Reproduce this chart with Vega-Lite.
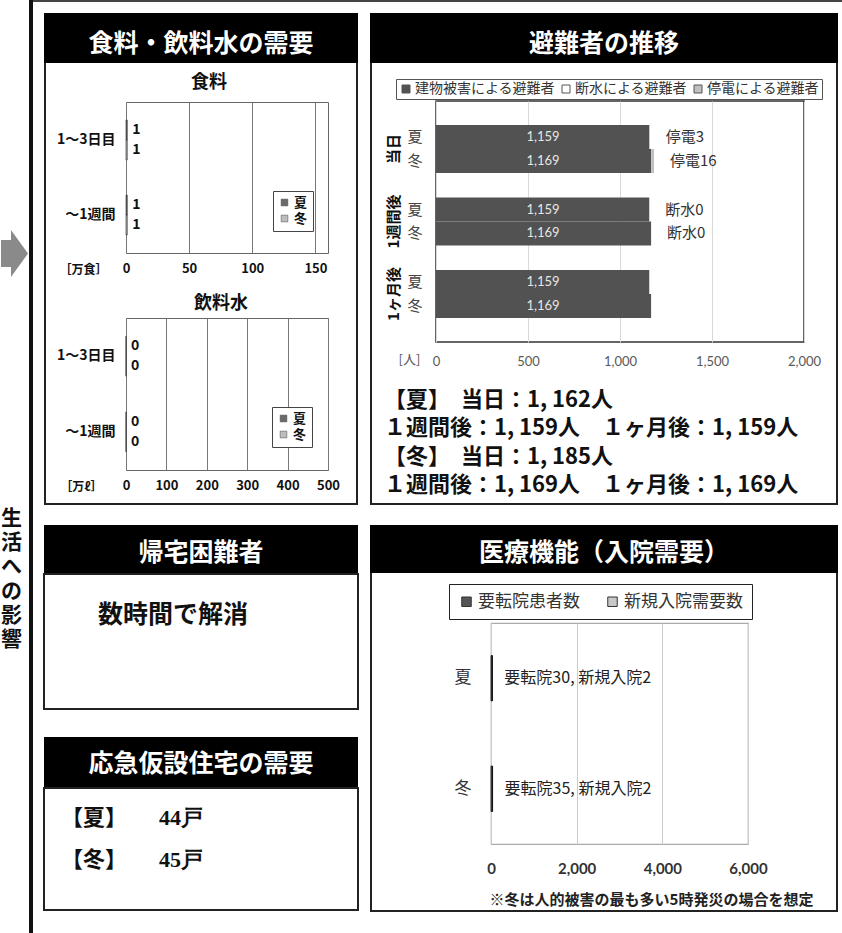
{
  "$schema": "https://vega.github.io/schema/vega-lite/v6.json",
  "padding": 0,
  "background": "white",
  "config": {
    "font": "Noto Sans CJK JP",
    "view": {"stroke": null},
    "axis": {"labelFont": "Noto Sans CJK JP", "titleFont": "Noto Sans CJK JP"},
    "legend": {"labelFont": "Noto Sans CJK JP"},
    "title": {"font": "Noto Sans CJK JP"}
  },
  "datasets": {
    "sidebar": [
      {"i": 1, "ch": "生"}, {"i": 2, "ch": "活"}, {"i": 3, "ch": "へ"},
      {"i": 4, "ch": "の"}, {"i": 5, "ch": "影"}, {"i": 6, "ch": "響"}
    ],
    "food": [
      {"period": "1～3日目", "season": "夏", "value": 1},
      {"period": "1～3日目", "season": "冬", "value": 1},
      {"period": "～1週間", "season": "夏", "value": 1},
      {"period": "～1週間", "season": "冬", "value": 1}
    ],
    "water": [
      {"period": "1～3日目", "season": "夏", "value": 0},
      {"period": "1～3日目", "season": "冬", "value": 0},
      {"period": "～1週間", "season": "夏", "value": 0},
      {"period": "～1週間", "season": "冬", "value": 0}
    ],
    "evac": [
      {"group": "当日", "season": "夏", "cause": "建物被害による避難者", "k": 1, "value": 1159},
      {"group": "当日", "season": "夏", "cause": "断水による避難者", "k": 2, "value": 0},
      {"group": "当日", "season": "夏", "cause": "停電による避難者", "k": 3, "value": 3},
      {"group": "当日", "season": "冬", "cause": "建物被害による避難者", "k": 1, "value": 1169},
      {"group": "当日", "season": "冬", "cause": "断水による避難者", "k": 2, "value": 0},
      {"group": "当日", "season": "冬", "cause": "停電による避難者", "k": 3, "value": 16},
      {"group": "1週間後", "season": "夏", "cause": "建物被害による避難者", "k": 1, "value": 1159},
      {"group": "1週間後", "season": "夏", "cause": "断水による避難者", "k": 2, "value": 0},
      {"group": "1週間後", "season": "夏", "cause": "停電による避難者", "k": 3, "value": 0},
      {"group": "1週間後", "season": "冬", "cause": "建物被害による避難者", "k": 1, "value": 1169},
      {"group": "1週間後", "season": "冬", "cause": "断水による避難者", "k": 2, "value": 0},
      {"group": "1週間後", "season": "冬", "cause": "停電による避難者", "k": 3, "value": 0},
      {"group": "1ヶ月後", "season": "夏", "cause": "建物被害による避難者", "k": 1, "value": 1159},
      {"group": "1ヶ月後", "season": "夏", "cause": "断水による避難者", "k": 2, "value": 0},
      {"group": "1ヶ月後", "season": "夏", "cause": "停電による避難者", "k": 3, "value": 0},
      {"group": "1ヶ月後", "season": "冬", "cause": "建物被害による避難者", "k": 1, "value": 1169},
      {"group": "1ヶ月後", "season": "冬", "cause": "断水による避難者", "k": 2, "value": 0},
      {"group": "1ヶ月後", "season": "冬", "cause": "停電による避難者", "k": 3, "value": 0}
    ],
    "evacNotes": [
      {"group": "当日", "season": "夏", "total": 1162, "note": "停電3"},
      {"group": "当日", "season": "冬", "total": 1185, "note": "停電16"},
      {"group": "1週間後", "season": "夏", "total": 1159, "note": "断水0"},
      {"group": "1週間後", "season": "冬", "total": 1169, "note": "断水0"}
    ],
    "summary": [
      {"line": 1, "text": "【夏】　当日：1, 162人"},
      {"line": 2, "text": "１週間後：1, 159人　１ヶ月後：1, 159人"},
      {"line": 3, "text": "【冬】　当日：1, 185人"},
      {"line": 4, "text": "１週間後：1, 169人　１ヶ月後：1, 169人"}
    ],
    "med": [
      {"season": "夏", "type": "要転院患者数", "k": 1, "value": 30},
      {"season": "夏", "type": "新規入院需要数", "k": 2, "value": 2},
      {"season": "冬", "type": "要転院患者数", "k": 1, "value": 35},
      {"season": "冬", "type": "新規入院需要数", "k": 2, "value": 2}
    ],
    "medNotes": [
      {"season": "夏", "total": 32, "note": "要転院30, 新規入院2"},
      {"season": "冬", "total": 37, "note": "要転院35, 新規入院2"}
    ],
    "housing": [
      {"season": "夏", "label": "【夏】", "households": 44, "text": "44戸"},
      {"season": "冬", "label": "【冬】", "households": 45, "text": "45戸"}
    ]
  },
  "spacing": 0,
  "resolve": {"scale": {"color": "independent", "yOffset": "independent"}},
  "hconcat": [
    {
      "spacing": 0,
      "vconcat": [
        {"width": 29, "height": 507, "data": {"values": [{"item": "arrow"}]},
         "mark": {"type": "point", "shape": "M-1,-1 L-0.26,-1 L-0.26,-1.74 L1,0 L-0.26,1.74 L-0.26,1 L-1,1 Z", "size": 729, "filled": true, "color": "#8a8a8a", "opacity": 1, "strokeWidth": 0, "dx": -1, "dy": 8},
         "encoding": {}},
        {"width": 29, "height": 145, "data": {"name": "sidebar"},
         "mark": {"type": "text", "fontSize": 21, "fontWeight": "bold", "color": "#111", "dx": -3},
         "encoding": {"y": {"field": "i", "type": "ordinal", "axis": null, "scale": {"type": "point", "padding": 0.5}}, "text": {"field": "ch"}}},
        {"width": 29, "height": 281, "data": {"values": [{}]}, "mark": {"type": "point", "size": 0, "opacity": 0, "strokeWidth": 0}, "encoding": {}}
      ]
    },
    {"width": 4, "height": 933, "view": {"fill": "#111", "stroke": null}, "data": {"values": [{}]}, "mark": {"type": "point", "size": 0, "opacity": 0, "strokeWidth": 0}, "encoding": {}},
    {
      "spacing": 0,
      "resolve": {"scale": {"color": "independent", "yOffset": "independent"}},
      "vconcat": [
        {"width": 809, "height": 2, "view": {"fill": "#444", "stroke": null}, "data": {"values": [{}]}, "mark": {"type": "point", "size": 0, "opacity": 0, "strokeWidth": 0}, "encoding": {}},
        {
          "spacing": 0,
          "resolve": {"scale": {"color": "independent", "yOffset": "independent"}},
          "hconcat": [
            {"width": 10, "height": 1, "data": {"values": [{}]}, "mark": {"type": "point", "size": 0, "opacity": 0, "strokeWidth": 0}, "encoding": {}},
            {
              "spacing": 0,
              "resolve": {"scale": {"color": "independent", "yOffset": "independent"}},
              "vconcat": [
                {"width": 1, "height": 11, "data": {"values": [{}]}, "mark": {"type": "point", "size": 0, "opacity": 0, "strokeWidth": 0}, "encoding": {}},
                {"width": 314, "height": 50, "view": {"fill": "#000", "stroke": null},
                 "data": {"values": [{"title": "食料・飲料水の需要"}]},
                 "mark": {"type": "text", "color": "white", "fontSize": 25, "fontWeight": "bold", "dy": 5.5},
                 "encoding": {"text": {"field": "title"}}},
                {
                  "spacing": 0,
                  "resolve": {"scale": {"color": "independent", "yOffset": "independent"}},
                  "vconcat": [
                    {
                      "spacing": 0,
                      "resolve": {"scale": {"color": "independent", "yOffset": "independent"}},
                      "hconcat": [
                        {"width": 2, "height": 440, "view": {"fill": "#222", "stroke": null}, "data": {"values": [{}]}, "mark": {"type": "point", "size": 0, "opacity": 0, "strokeWidth": 0}, "encoding": {}},
                        {
                          "spacing": 0,
                          "resolve": {"scale": {"color": "independent", "yOffset": "independent"}},
                          "vconcat": [
                            {"width": 310, "height": 10, "data": {"values": [{}]}, "mark": {"type": "point", "size": 0, "opacity": 0, "strokeWidth": 0}, "encoding": {}},
                            {
                              "spacing": 0,
                              "resolve": {"scale": {"color": "independent", "yOffset": "independent"}},
                              "hconcat": [
                                {"width": 9, "height": 1, "data": {"values": [{}]}, "mark": {"type": "point", "size": 0, "opacity": 0, "strokeWidth": 0}, "encoding": {}},
                                {
                                  "width": 202, "height": 151,
                                  "title": {"text": "食料", "fontSize": 18, "fontWeight": "bold", "offset": 10, "color": "#111", "dx": -18},
                                  "view": {"stroke": "#666", "strokeWidth": 1},
                                  "data": {"name": "food"},
                                  "encoding": {
                                    "y": {"field": "period", "type": "nominal", "sort": ["1～3日目", "～1週間"],
                                          "scale": {"paddingInner": 0.47, "paddingOuter": 0.24},
                                          "axis": {"title": null, "ticks": false, "domain": false, "labelFontSize": 14, "labelFontWeight": "bold", "labelPadding": 11, "labelColor": "#111"}},
                                    "yOffset": {"field": "season", "sort": ["夏", "冬"]}
                                  },
                                  "layer": [
                                    {"mark": {"type": "bar", "stroke": "#222", "strokeWidth": 0.6},
                                     "encoding": {
                                       "x": {"field": "value", "type": "quantitative", "scale": {"domain": [0, 150]},
                                             "axis": {"title": "［万食］", "values": [0, 50, 100, 150], "grid": true, "gridColor": "#777", "ticks": false, "domain": false, "labelFlush": false,
                                                      "labelFontSize": 13, "labelFontWeight": "bold", "labelColor": "#111", "labelPadding": 9,
                                                      "titleAnchor": "start", "titleAlign": "right", "titleX": -19, "titleY": 16, "titleBaseline": "middle", "titleFontSize": 12, "titleFontWeight": "bold", "titleColor": "#111"}},
                                       "color": {"field": "season", "type": "nominal", "scale": {"domain": ["夏", "冬"], "range": ["#6a6a6a", "#bdbdbd"]},
                                                 "legend": {"orient": "none", "legendX": 147, "legendY": 89, "title": null, "strokeColor": "#444", "fillColor": "white", "padding": 5, "symbolType": "square", "symbolSize": 45, "symbolStrokeColor": "#444", "symbolStrokeWidth": 0.5, "labelFontSize": 13, "labelFontWeight": "bold", "labelColor": "#111", "rowPadding": 2, "labelOffset": 3}}
                                     }},
                                    {"mark": {"type": "text", "align": "left", "dx": 5, "fontSize": 14, "fontWeight": "bold", "color": "#111"},
                                     "encoding": {"x": {"field": "value", "type": "quantitative"}, "text": {"field": "value"}}}
                                  ]
                                }
                              ]
                            },
                            {"width": 1, "height": 18, "data": {"values": [{}]}, "mark": {"type": "point", "size": 0, "opacity": 0, "strokeWidth": 0}, "encoding": {}},
                            {
                              "spacing": 0,
                              "resolve": {"scale": {"color": "independent", "yOffset": "independent"}},
                              "hconcat": [
                                {"width": 9, "height": 1, "data": {"values": [{}]}, "mark": {"type": "point", "size": 0, "opacity": 0, "strokeWidth": 0}, "encoding": {}},
                                {
                                  "width": 202, "height": 152,
                                  "title": {"text": "飲料水", "fontSize": 18, "fontWeight": "bold", "offset": 5, "color": "#111", "dx": -6},
                                  "view": {"stroke": "#666", "strokeWidth": 1},
                                  "data": {"name": "water"},
                                  "encoding": {
                                    "y": {"field": "period", "type": "nominal", "sort": ["1～3日目", "～1週間"],
                                          "scale": {"paddingInner": 0.47, "paddingOuter": 0.24},
                                          "axis": {"title": null, "ticks": false, "domain": false, "labelFontSize": 14, "labelFontWeight": "bold", "labelPadding": 11, "labelColor": "#111"}},
                                    "yOffset": {"field": "season", "sort": ["夏", "冬"]}
                                  },
                                  "layer": [
                                    {"mark": {"type": "bar", "stroke": "#222", "strokeWidth": 0.6},
                                     "encoding": {
                                       "x": {"field": "value", "type": "quantitative", "scale": {"domain": [0, 500]},
                                             "axis": {"title": "［万ℓ］", "values": [0, 100, 200, 300, 400, 500], "grid": true, "gridColor": "#777", "ticks": false, "domain": false, "labelFlush": false,
                                                      "labelFontSize": 13, "labelFontWeight": "bold", "labelColor": "#111", "labelPadding": 9,
                                                      "titleAnchor": "start", "titleAlign": "right", "titleX": -24, "titleY": 16, "titleBaseline": "middle", "titleFontSize": 12, "titleFontWeight": "bold", "titleColor": "#111"}},
                                       "color": {"field": "season", "type": "nominal", "scale": {"domain": ["夏", "冬"], "range": ["#6a6a6a", "#bdbdbd"]},
                                                 "legend": {"orient": "none", "legendX": 146, "legendY": 89, "title": null, "strokeColor": "#444", "fillColor": "white", "padding": 5, "symbolType": "square", "symbolSize": 45, "symbolStrokeColor": "#444", "symbolStrokeWidth": 0.5, "labelFontSize": 13, "labelFontWeight": "bold", "labelColor": "#111", "rowPadding": 2, "labelOffset": 3}}
                                     }},
                                    {"mark": {"type": "text", "align": "left", "dx": 5, "fontSize": 14, "fontWeight": "bold", "color": "#111"},
                                     "encoding": {"x": {"field": "value", "type": "quantitative"}, "text": {"field": "value"}}}
                                  ]
                                }
                              ]
                            }
                          ]
                        },
                        {"width": 2, "height": 440, "view": {"fill": "#222", "stroke": null}, "data": {"values": [{}]}, "mark": {"type": "point", "size": 0, "opacity": 0, "strokeWidth": 0}, "encoding": {}}
                      ]
                    },
                    {"width": 314, "height": 2, "view": {"fill": "#222", "stroke": null}, "data": {"values": [{}]}, "mark": {"type": "point", "size": 0, "opacity": 0, "strokeWidth": 0}, "encoding": {}}
                  ]
                },
                {"width": 1, "height": 20, "data": {"values": [{}]}, "mark": {"type": "point", "size": 0, "opacity": 0, "strokeWidth": 0}, "encoding": {}},
                {"width": 314, "height": 48, "view": {"fill": "#000", "stroke": null},
                 "data": {"values": [{"title": "帰宅困難者"}]},
                 "mark": {"type": "text", "color": "white", "fontSize": 25, "fontWeight": "bold", "dy": 4},
                 "encoding": {"text": {"field": "title"}}},
                {"width": 314, "height": 135, "view": {"stroke": "#222", "strokeWidth": 2},
                 "data": {"values": [{"status": "数時間で解消"}]},
                 "mark": {"type": "text", "fontSize": 25, "fontWeight": "bold", "color": "#111", "dx": -28, "dy": -27},
                 "encoding": {"text": {"field": "status"}}},
                {"width": 1, "height": 27, "data": {"values": [{}]}, "mark": {"type": "point", "size": 0, "opacity": 0, "strokeWidth": 0}, "encoding": {}},
                {"width": 314, "height": 50, "view": {"fill": "#000", "stroke": null},
                 "data": {"values": [{"title": "応急仮設住宅の需要"}]},
                 "mark": {"type": "text", "color": "white", "fontSize": 25, "fontWeight": "bold", "dy": 2},
                 "encoding": {"text": {"field": "title"}}},
                {"width": 314, "height": 122, "view": {"stroke": "#222", "strokeWidth": 2},
                 "data": {"name": "housing"},
                 "encoding": {"y": {"field": "season", "type": "nominal", "sort": ["夏", "冬"], "axis": null, "scale": {"type": "point", "padding": 0.976, "align": 0.378}}},
                 "layer": [
                   {"mark": {"type": "text", "fontSize": 22, "fontWeight": "bold", "color": "#111", "dx": -107}, "encoding": {"text": {"field": "label"}}},
                   {"mark": {"type": "text", "fontSize": 22, "fontWeight": "bold", "color": "#111", "font": "Liberation Serif", "align": "left", "dx": -42}, "encoding": {"text": {"field": "text"}}}
                 ]}
              ]
            },
            {"width": 11, "height": 1, "data": {"values": [{}]}, "mark": {"type": "point", "size": 0, "opacity": 0, "strokeWidth": 0}, "encoding": {}},
            {
              "spacing": 0,
              "resolve": {"scale": {"color": "independent", "yOffset": "independent"}},
              "vconcat": [
                {"width": 1, "height": 11, "data": {"values": [{}]}, "mark": {"type": "point", "size": 0, "opacity": 0, "strokeWidth": 0}, "encoding": {}},
                {"width": 468, "height": 50, "view": {"fill": "#000", "stroke": null},
                 "data": {"values": [{"title": "避難者の推移"}]},
                 "mark": {"type": "text", "color": "white", "fontSize": 25, "fontWeight": "bold", "dy": 5.5},
                 "encoding": {"text": {"field": "title"}}},
                {
                  "spacing": 0,
                  "resolve": {"scale": {"color": "independent", "yOffset": "independent"}},
                  "vconcat": [
                    {
                      "spacing": 0,
                      "resolve": {"scale": {"color": "independent", "yOffset": "independent"}},
                      "hconcat": [
                        {"width": 2, "height": 440, "view": {"fill": "#222", "stroke": null}, "data": {"values": [{}]}, "mark": {"type": "point", "size": 0, "opacity": 0, "strokeWidth": 0}, "encoding": {}},
                        {
                          "spacing": 0,
                          "resolve": {"scale": {"color": "independent", "yOffset": "independent"}},
                          "vconcat": [
                            {"width": 464, "height": 14, "data": {"values": [{}]}, "mark": {"type": "point", "size": 0, "opacity": 0, "strokeWidth": 0}, "encoding": {}},
                            {
                              "spacing": 0,
                              "resolve": {"scale": {"color": "independent", "yOffset": "independent"}},
                              "hconcat": [
                                {"width": 13, "height": 1, "data": {"values": [{}]}, "mark": {"type": "point", "size": 0, "opacity": 0, "strokeWidth": 0}, "encoding": {}},
                                {
                                  "width": 368, "height": 241,
                                  "view": {"stroke": "#333", "strokeWidth": 1.5},
                                  "encoding": {
                                    "y": {"field": "group", "type": "nominal", "sort": ["当日", "1週間後", "1ヶ月後"],
                                          "scale": {"paddingInner": 0.338, "paddingOuter": 0.331},
                                          "axis": {"title": null, "labelAngle": -90, "ticks": false, "domain": false, "labelFontSize": 15, "labelFontWeight": "bold", "labelColor": "#111", "labelPadding": 35}},
                                    "yOffset": {"field": "season", "sort": ["夏", "冬"]}
                                  },
                                  "layer": [
                                    {"data": {"name": "evac"},
                                     "mark": {"type": "bar"},
                                     "encoding": {
                                       "x": {"field": "value", "type": "quantitative", "stack": "zero", "scale": {"domain": [0, 2000]},
                                             "axis": {"values": [0, 500, 1000, 1500, 2000], "format": ",d", "grid": true, "gridColor": "#d9d9d9", "ticks": false, "domain": false, "labelFlush": false,
                                                      "labelFont": "Lato", "labelFontSize": 13, "labelColor": "#595959", "labelPadding": 13,
                                                      "title": "[人]", "titleFontSize": 13, "titleFontWeight": "normal", "titleColor": "#595959", "titleAnchor": "start", "titleAlign": "center", "titleX": -27, "titleY": 17, "titleBaseline": "middle"}},
                                       "color": {"field": "cause", "type": "nominal",
                                                 "scale": {"domain": ["建物被害による避難者", "断水による避難者", "停電による避難者"], "range": ["#525252", "#ffffff", "#c0c0c0"]},
                                                 "legend": {"orient": "none", "legendX": -40, "legendY": -22, "direction": "horizontal", "title": null, "strokeColor": "#555", "fillColor": "white", "padding": 3,
                                                            "symbolType": "square", "symbolSize": 64, "symbolStrokeColor": "#555", "symbolStrokeWidth": 1, "labelFontSize": 14, "labelColor": "#333", "labelOffset": 2, "columnPadding": 4}},
                                       "order": {"field": "k"}
                                     }},
                                    {"data": {"name": "evac"},
                                     "transform": [{"filter": "datum.k === 1"}],
                                     "mark": {"type": "text", "font": "Lato", "fontSize": 13, "color": "#e6e6e6", "dx": 107},
                                     "encoding": {"x": {"datum": 0}, "text": {"field": "value", "format": ",d"}}},
                                    {"data": {"name": "evac"},
                                     "transform": [{"filter": "datum.k === 1"}],
                                     "mark": {"type": "text", "fontSize": 15, "color": "#444", "dx": -21},
                                     "encoding": {"x": {"datum": 0}, "text": {"field": "season"}}},
                                    {"data": {"name": "evacNotes"},
                                     "mark": {"type": "text", "align": "left", "dx": 16, "fontSize": 15, "color": "#333"},
                                     "encoding": {"x": {"field": "total", "type": "quantitative"}, "text": {"field": "note"}}}
                                  ]
                                }
                              ]
                            },
                            {"width": 1, "height": 17, "data": {"values": [{}]}, "mark": {"type": "point", "size": 0, "opacity": 0, "strokeWidth": 0}, "encoding": {}},
                            {
                              "spacing": 0,
                              "hconcat": [
                                {"width": 9, "height": 1, "data": {"values": [{}]}, "mark": {"type": "point", "size": 0, "opacity": 0, "strokeWidth": 0}, "encoding": {}},
                                {"width": 6, "height": 113,
                                 "data": {"name": "summary"},
                                 "mark": {"type": "text", "align": "left", "fontSize": 22, "fontWeight": "bold", "color": "#111"},
                                 "encoding": {"y": {"field": "line", "type": "ordinal", "axis": null}, "text": {"field": "text"}}}
                              ]
                            }
                          ]
                        },
                        {"width": 2, "height": 440, "view": {"fill": "#222", "stroke": null}, "data": {"values": [{}]}, "mark": {"type": "point", "size": 0, "opacity": 0, "strokeWidth": 0}, "encoding": {}}
                      ]
                    },
                    {"width": 468, "height": 2, "view": {"fill": "#222", "stroke": null}, "data": {"values": [{}]}, "mark": {"type": "point", "size": 0, "opacity": 0, "strokeWidth": 0}, "encoding": {}}
                  ]
                },
                {"width": 1, "height": 20, "data": {"values": [{}]}, "mark": {"type": "point", "size": 0, "opacity": 0, "strokeWidth": 0}, "encoding": {}},
                {"width": 468, "height": 48, "view": {"fill": "#000", "stroke": null},
                 "data": {"values": [{"title": "医療機能（入院需要）"}]},
                 "mark": {"type": "text", "color": "white", "fontSize": 25, "fontWeight": "bold", "dy": 3.5},
                 "encoding": {"text": {"field": "title"}}},
                {
                  "spacing": 0,
                  "resolve": {"scale": {"color": "independent", "yOffset": "independent"}},
                  "vconcat": [
                    {
                      "spacing": 0,
                      "resolve": {"scale": {"color": "independent", "yOffset": "independent"}},
                      "hconcat": [
                        {"width": 2, "height": 337, "view": {"fill": "#222", "stroke": null}, "data": {"values": [{}]}, "mark": {"type": "point", "size": 0, "opacity": 0, "strokeWidth": 0}, "encoding": {}},
                        {
                          "spacing": 0,
                          "resolve": {"scale": {"color": "independent", "yOffset": "independent"}},
                          "vconcat": [
                            {"width": 464, "height": 9, "data": {"values": [{}]}, "mark": {"type": "point", "size": 0, "opacity": 0, "strokeWidth": 0}, "encoding": {}},
                            {
                              "spacing": 0,
                              "resolve": {"scale": {"color": "independent", "yOffset": "independent"}},
                              "hconcat": [
                                {"width": 75, "height": 1, "data": {"values": [{}]}, "mark": {"type": "point", "size": 0, "opacity": 0, "strokeWidth": 0}, "encoding": {}},
                                {
                                  "width": 257, "height": 221,
                                  "view": {"stroke": "#aaa", "strokeWidth": 1.2},
                                  "encoding": {
                                    "y": {"field": "season", "type": "nominal", "sort": ["夏", "冬"],
                                          "scale": {"paddingInner": 0.59, "paddingOuter": 0.295},
                                          "axis": {"title": null, "ticks": false, "domain": false, "labelFontSize": 17, "labelColor": "#333", "labelPadding": 20}}
                                  },
                                  "layer": [
                                    {"data": {"name": "med"},
                                     "mark": {"type": "bar", "stroke": "#111", "strokeWidth": 0.8},
                                     "encoding": {
                                       "x": {"field": "value", "type": "quantitative", "stack": "zero", "scale": {"domain": [0, 6000]},
                                             "axis": {"values": [0, 2000, 4000, 6000], "format": ",d", "grid": true, "gridColor": "#ccc", "ticks": false, "domain": false, "labelFlush": false,
                                                      "labelFont": "Lato", "labelFontSize": 15, "labelFontWeight": "bold", "labelColor": "#333", "labelPadding": 17,
                                                      "title": "※冬は人的被害の最も多い5時発災の場合を想定", "titleFontSize": 15, "titleFontWeight": "bold", "titleColor": "#222",
                                                      "titleAnchor": "start", "titleAlign": "center", "titleX": 160, "titleY": 55, "titleBaseline": "middle"}},
                                       "color": {"field": "type", "type": "nominal",
                                                 "scale": {"domain": ["要転院患者数", "新規入院需要数"], "range": ["#555555", "#c8c8c8"]},
                                                 "legend": {"orient": "none", "legendX": -42, "legendY": -39, "direction": "horizontal", "title": null, "strokeColor": "#222", "fillColor": "white", "padding": 9,
                                                            "symbolType": "square", "symbolSize": 90, "symbolStrokeColor": "#333", "symbolStrokeWidth": 1, "labelFontSize": 17, "labelColor": "#333", "labelOffset": 3, "columnPadding": 24}},
                                       "order": {"field": "k"}
                                     }},
                                    {"data": {"name": "medNotes"},
                                     "mark": {"type": "text", "align": "left", "dx": 12, "fontSize": 16, "color": "#222"},
                                     "encoding": {"x": {"field": "total", "type": "quantitative"}, "text": {"field": "note"}}}
                                  ]
                                }
                              ]
                            }
                          ]
                        },
                        {"width": 2, "height": 337, "view": {"fill": "#222", "stroke": null}, "data": {"values": [{}]}, "mark": {"type": "point", "size": 0, "opacity": 0, "strokeWidth": 0}, "encoding": {}}
                      ]
                    },
                    {"width": 468, "height": 2, "view": {"fill": "#222", "stroke": null}, "data": {"values": [{}]}, "mark": {"type": "point", "size": 0, "opacity": 0, "strokeWidth": 0}, "encoding": {}}
                  ]
                }
              ]
            },
            {"width": 6, "height": 1, "data": {"values": [{}]}, "mark": {"type": "point", "size": 0, "opacity": 0, "strokeWidth": 0}, "encoding": {}}
          ]
        }
      ]
    }
  ]
}
